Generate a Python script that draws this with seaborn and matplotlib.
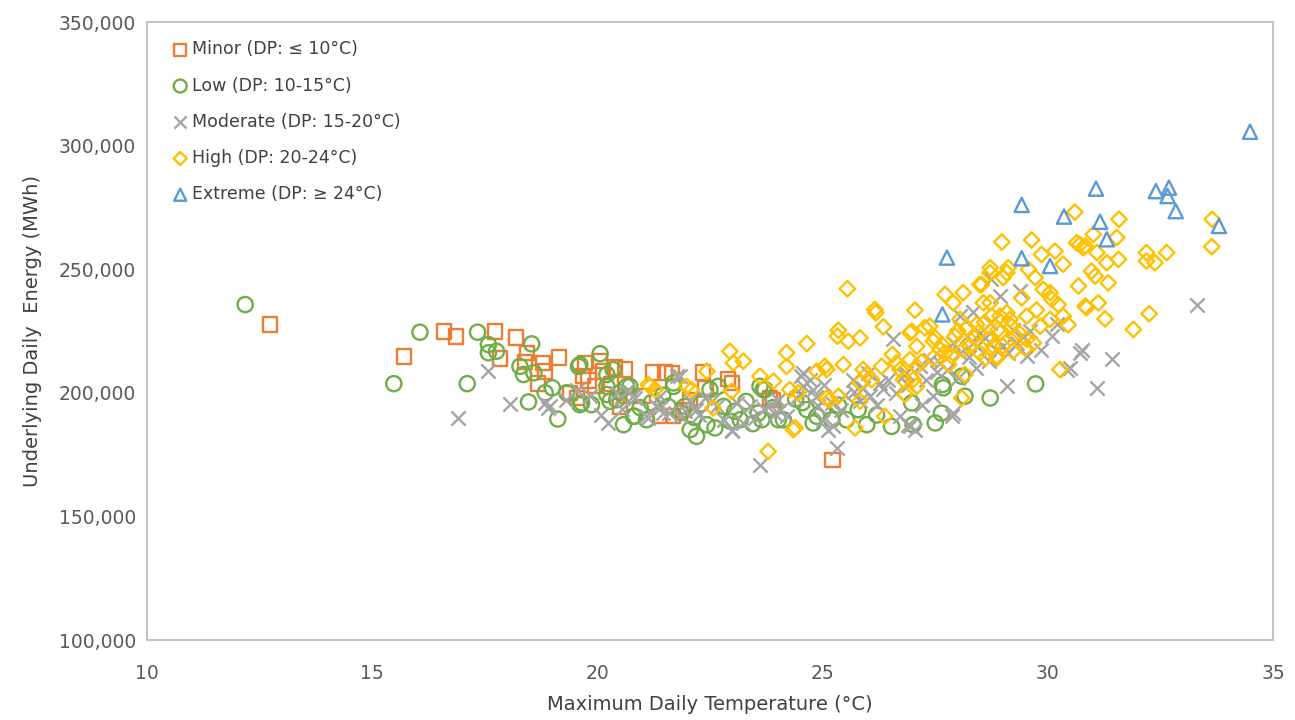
import matplotlib
matplotlib.use("Agg")
import matplotlib.pyplot as plt
from matplotlib.ticker import FuncFormatter
import seaborn as sns
import pandas as pd

# Daily maximum temperature (°C) and underlying daily energy (MWh), grouped by dew point band
minor_temp = [12.73, 15.71, 16.59, 16.86, 17.73, 18.19, 17.84, 18.39, 18.79, 19.15, 18.84, 18.68,
              19.72, 20.12, 20.61, 18.43, 20.06, 20.39, 19.39, 19.68, 19.95, 20.50, 20.65, 21.23,
              21.50, 21.01, 21.39, 21.68, 21.65, 22.34, 22.98, 22.05, 23.83, 25.22, 23.90, 19.54,
              22.40, 22.90, 19.80, 20.30, 21.90]
minor_energy = [227600, 214700, 224800, 222800, 224800, 222400, 213900, 212600, 212200, 214300,
                208600, 203800, 212200, 208600, 209400, 216200, 212800, 210200, 200000, 206700,
                202600, 194500, 198600, 208200, 208200, 198600, 190500, 190500, 208100, 208200,
                204000, 197000, 197900, 172900, 197200, 197900, 202000, 205600, 205000, 203500,
                193000]

low_temp = [12.18, 15.48, 16.06, 17.11, 17.34, 17.58, 17.58, 17.76, 18.54, 18.28, 18.36, 18.59,
            18.47, 19.00, 19.12, 20.06, 19.58, 19.32, 19.61, 20.21, 20.35, 20.21, 20.43, 20.58,
            20.80, 21.09, 20.65, 19.61, 18.84, 19.65, 19.87, 20.21, 20.50, 20.72, 20.83, 21.57,
            21.69, 20.28, 21.69, 21.94, 22.06, 22.20, 22.43, 22.61, 22.50, 22.68, 22.80, 23.05,
            23.17, 23.61, 23.72, 23.57, 24.02, 24.65, 24.87, 23.68, 23.65, 24.13, 24.79, 25.20,
            25.53, 25.98, 25.79, 26.53, 27.01, 26.98, 27.50, 27.64, 27.66, 28.09, 28.16, 28.72,
            29.73, 27.68, 21.20, 21.45, 21.85, 22.30, 22.95, 23.30, 23.90, 24.40, 25.00, 25.35,
            26.20, 20.95, 22.15, 23.45, 24.55]
low_energy = [235700, 203700, 224500, 203700, 224500, 219500, 216200, 216800, 219800, 210700,
              207400, 208100, 196300, 202000, 189400, 215800, 210700, 200000, 195200, 207400,
              209400, 202600, 197200, 187100, 190500, 189100, 202600, 211400, 200000, 195900,
              195200, 199300, 200100, 202600, 190500, 194500, 202600, 196600, 204000, 194500,
              185100, 182400, 187100, 185800, 201300, 202600, 194500, 192500, 189100, 202600,
              201300, 191800, 189100, 193200, 190500, 201300, 189100, 189100, 187800, 189100,
              189100, 187100, 193200, 186400, 187100, 195900, 187800, 191800, 203300, 206700,
              198600, 197900, 203600, 202000, 196000, 199000, 192000, 195500, 188500, 196500,
              194000, 197500, 192500, 195000, 191000, 194000, 190000, 187500, 196000]

moderate_temp = [16.91, 17.58, 18.06, 18.84, 18.91, 19.54, 19.84, 20.09, 20.24, 20.43, 20.80, 21.39,
                 21.46, 18.95, 21.09, 21.31, 21.39, 21.76, 20.65, 20.83, 21.83, 22.06, 22.20, 21.83,
                 22.65, 22.98, 23.24, 23.39, 23.83, 24.05, 24.20, 24.53, 24.57, 24.79, 24.90, 25.01,
                 23.60, 21.13, 22.98, 24.72, 25.31, 24.57, 25.02, 25.24, 25.13, 25.68, 25.83, 26.05,
                 26.27, 26.46, 26.57, 26.64, 26.72, 26.94, 27.05, 26.86, 27.16, 27.38, 27.46, 27.76,
                 27.87, 28.05, 28.20, 28.42, 28.72, 28.94, 29.09, 29.12, 29.23, 28.34, 26.90, 27.90,
                 28.05, 30.71, 30.42, 30.09, 29.86, 29.53, 29.31, 28.75, 28.49, 28.35, 33.31, 31.42,
                 30.75, 30.49, 31.09, 29.38, 22.40, 22.80, 23.10, 23.50, 24.40, 25.50, 25.90, 26.20,
                 26.90, 27.30, 27.60, 28.00, 28.40, 28.70, 29.00, 29.60, 30.20, 25.40, 26.00, 27.20,
                 27.90, 28.60, 21.60, 22.25, 22.55, 23.70, 24.00, 24.85, 25.20, 25.70, 26.35, 26.80,
                 27.55, 28.25, 28.85, 29.45, 19.30, 20.55, 21.95, 23.95]
moderate_energy = [189800, 209000, 195500, 195900, 193900, 201300, 198600, 191200, 187800, 200000,
                   198600, 193900, 191800, 194500, 190500, 194500, 198600, 206700, 200600, 197900,
                   206700, 197200, 193200, 190500, 194500, 185100, 187800, 194500, 195200, 193200,
                   190500, 206700, 202600, 201300, 194500, 189100, 170900, 189800, 184400, 205300,
                   177700, 208100, 203300, 186400, 185100, 205300, 196600, 198600, 204000, 205300,
                   221600, 200000, 190500, 186400, 185100, 208100, 210700, 213400, 198600, 209400,
                   190500, 216200, 222900, 218800, 228300, 239100, 202600, 216200, 225600, 232500,
                   187100, 191800, 231000, 216200, 209400, 222900, 217500, 214800, 220200, 245900,
                   224300, 220200, 235700, 213500, 217500, 210100, 202000, 241100, 198000, 189000,
                   196000, 190000, 198000, 199000, 202000, 195000, 203000, 205000, 212000, 206000,
                   210000, 213000, 219000, 225000, 228000, 193000, 208000, 195000, 220000, 222000,
                   192000, 191000, 196500, 193500, 197000, 198500, 196000, 200500, 201500, 207000,
                   208500, 214500, 217500, 223000, 197000, 193500, 192500, 191500]

high_temp = [21.17, 21.28, 22.94, 23.02, 23.24, 22.43, 21.13, 21.98, 22.09, 22.57, 22.98, 23.61,
             23.91, 24.20, 24.20, 24.65, 24.27, 24.46, 24.39, 23.79, 24.87, 25.05, 25.09, 25.55,
             26.16, 26.18, 27.05, 26.35, 25.35, 25.33, 25.57, 25.83, 25.09, 25.46, 25.90, 25.98,
             26.31, 26.64, 26.98, 27.09, 27.27, 27.46, 27.72, 27.90, 28.12, 28.49, 28.72, 29.09,
             28.72, 28.94, 28.05, 28.20, 28.42, 27.61, 27.87, 28.12, 28.79, 28.87, 26.94, 26.79,
             27.01, 26.09, 25.35, 24.35, 25.72, 26.38, 25.83, 28.09, 26.94, 27.38, 27.50, 27.94,
             26.72, 27.09, 27.46, 27.72, 25.16, 25.83, 27.09, 26.83, 28.16, 30.60, 28.98, 29.64,
             30.64, 30.79, 28.72, 29.12, 29.86, 30.16, 30.34, 29.57, 29.72, 28.53, 29.01, 29.42,
             29.90, 30.09, 30.23, 30.34, 30.68, 30.83, 28.57, 28.75, 29.09, 29.20, 29.53, 29.83,
             30.05, 28.94, 29.53, 28.87, 28.61, 30.27, 29.23, 31.58, 33.65, 33.64, 31.01, 31.53,
             30.71, 30.83, 31.09, 31.57, 32.19, 32.19, 32.38, 32.64, 31.31, 30.97, 31.05, 31.34,
             30.05, 30.86, 31.12, 31.27, 31.90, 32.25, 28.46, 28.68, 28.90, 29.16, 29.27, 29.68,
             28.27, 28.49, 26.55, 27.20, 27.65, 28.35, 28.60, 29.35, 29.75, 30.45, 27.80, 28.00,
             29.00, 29.50]
high_energy = [202600, 201300, 216800, 212100, 212800, 208700, 203300, 202600, 201300, 193900,
               200600, 206700, 204700, 216200, 210700, 219900, 201300, 200000, 185800, 176300,
               208700, 210700, 197900, 242100, 233700, 232400, 233400, 226700, 225300, 222900,
               220900, 222200, 209400, 211400, 209400, 207400, 210700, 212100, 224900, 218800,
               226300, 220900, 239800, 236400, 240500, 243800, 248600, 248600, 236400, 231000,
               229700, 226300, 227600, 217500, 214800, 217500, 218800, 214100, 213400, 205300,
               205300, 205300, 198600, 185100, 185800, 190500, 196600, 197900, 224300, 226900,
               222200, 222900, 209400, 210700, 214100, 216200, 197200, 204000, 202600, 199300,
               207400, 273100, 261000, 261800, 260700, 258700, 250600, 250600, 256000, 257300,
               252000, 249900, 246600, 243800, 246600, 238400, 241800, 237800, 235700, 231000,
               243200, 235100, 236400, 231000, 232400, 226900, 231000, 226900, 229700, 224300,
               221600, 214800, 214100, 209400, 216800, 270200, 270200, 259100, 264100, 262800,
               260000, 259400, 256700, 254000, 256700, 253300, 252600, 256700, 252600, 249200,
               247200, 244500, 240500, 234400, 236400, 229900, 225600, 232000, 224300, 221600,
               225600, 229700, 222900, 220200, 218800, 216200, 215500, 212500, 219500, 222500,
               228500, 224500, 233500, 227500, 211500, 225000, 219000, 218000]

extreme_temp = [34.49, 31.07, 32.40, 32.69, 32.66, 32.84, 29.42, 30.36, 31.16, 31.31, 33.80,
                29.42, 30.05, 27.76, 27.66]
extreme_energy = [305600, 282600, 281600, 283000, 279600, 273500, 276000, 271300, 269200, 262100,
                  267500, 254400, 251300, 254700, 231700]

categories = ["Minor (DP: \u2264 10\u00b0C)", "Low (DP: 10-15\u00b0C)", "Moderate (DP: 15-20\u00b0C)",
              "High (DP: 20-24\u00b0C)", "Extreme (DP: \u2265 24\u00b0C)"]
series = [(minor_temp, minor_energy), (low_temp, low_energy), (moderate_temp, moderate_energy),
          (high_temp, high_energy), (extreme_temp, extreme_energy)]

colors = ["#ED7D31", "#70AD47", "#A5A5A5", "#FFC000", "#5B9BD5"]
markers = ["s", "o", "x", "D", "^"]
sizes = [105, 120, 105, 62, 105]

sns.set_style("white")
plt.rcParams["font.family"] = ["DejaVu Sans"]

fig = plt.figure(figsize=(12.95, 7.2), dpi=100)
ax = fig.add_axes([147 / 1295, 1 - 640 / 720, 1126 / 1295, 618 / 720])

for name, (xs, ys), col, mk, sz in zip(categories, series, colors, markers, sizes):
    df = pd.DataFrame({"temp": xs, "energy": ys})
    if mk == "x":
        sns.scatterplot(data=df, x="temp", y="energy", ax=ax, color=col, marker=mk,
                        s=sz, linewidth=1.7, label=name)
    else:
        sns.scatterplot(data=df, x="temp", y="energy", ax=ax, color=col, marker=mk,
                        s=sz, facecolor="none", edgecolor=col, linewidth=1.7, label=name)

ax.set_xlim(10, 35)
ax.set_ylim(100000, 350000)
ax.set_xticks([10, 15, 20, 25, 30, 35])
ax.set_yticks([100000, 150000, 200000, 250000, 300000, 350000])
ax.yaxis.set_major_formatter(FuncFormatter(lambda v, p: f"{int(v):,}"))
ax.tick_params(axis="both", length=0, labelsize=13.5, labelcolor="#595959")
ax.tick_params(axis="x", pad=17)
ax.tick_params(axis="y", pad=8)

for sp in ax.spines.values():
    sp.set_color("#BFBFBF")
    sp.set_linewidth(1.3)

ax.set_xlabel("Maximum Daily Temperature (\u00b0C)", fontsize=14, color="#404040", labelpad=9)
ax.set_ylabel("Underlying Daily  Energy (MWh)", fontsize=14, color="#404040", labelpad=12)

leg = ax.legend(loc="upper left", bbox_to_anchor=(0.011, 0.99), frameon=False,
                fontsize=12.5, handletextpad=0.2, labelspacing=1.05, handlelength=1.0,
                borderaxespad=0.3, markerscale=0.85)
for t in leg.get_texts():
    t.set_color("#404040")

fig.savefig("out.png", dpi=100)
